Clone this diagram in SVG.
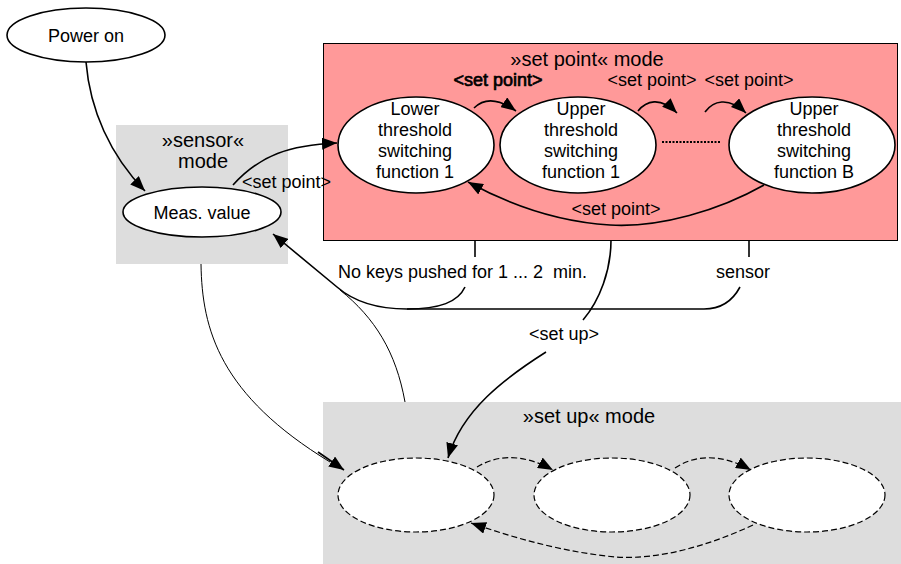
<svg xmlns="http://www.w3.org/2000/svg" width="901" height="564" viewBox="0 0 901 564">
<style>
text{font-family:"Liberation Sans",Arial,sans-serif;font-size:18px;fill:#000;text-anchor:middle}
.t{font-size:20px}
.b{stroke:#000;stroke-width:0.7}
.node{fill:#fff;stroke:#000;stroke-width:1.6}
.dn{fill:#fff;stroke:#000;stroke-width:1.2;stroke-dasharray:6,3}
.c{fill:none;stroke:#000;stroke-width:1.6}
.thin{fill:none;stroke:#000;stroke-width:1}
.d{fill:none;stroke:#000;stroke-width:1.2;stroke-dasharray:6,3}
</style>
<defs>
<marker id="a" markerUnits="userSpaceOnUse" markerWidth="16" markerHeight="12" refX="15" refY="6" orient="auto">
<path d="M0,0 L15,6 L0,12 z" fill="#000"/>
</marker>
</defs>
<rect width="901" height="564" fill="#fff"/>
<g id="sensor-mode">
<rect x="116" y="125" width="172" height="139" fill="#dddddd"/>
<text class="t" x="203" y="147">»sensor«</text>
<text class="t" x="203" y="168">mode</text>
</g>
<g id="setpoint-mode">
<rect x="323.5" y="43.5" width="574" height="197" fill="#ff9999" stroke="#000" stroke-width="1"/>
<text class="t" x="587" y="66">»set point« mode</text>
</g>
<g id="setup-mode">
<rect x="323" y="402" width="578" height="162" fill="#dddddd"/>
<text class="t" x="589" y="423">»set up« mode</text>
</g>
<g id="power-on">
<ellipse class="node" cx="86" cy="35" rx="79" ry="27"/>
<text x="86" y="42">Power on</text>
</g>
<g id="meas-value">
<ellipse class="node" cx="202" cy="212" rx="79" ry="25"/>
<text x="202" y="219">Meas. value</text>
</g>
<g id="lower-1">
<ellipse class="node" cx="416" cy="145" rx="78" ry="48"/>
<text x="415" y="115">Lower</text>
<text x="415" y="136">threshold</text>
<text x="415" y="157">switching</text>
<text x="415" y="178">function 1</text>
</g>
<g id="upper-1">
<ellipse class="node" cx="578" cy="145" rx="78" ry="48"/>
<text x="581" y="115">Upper</text>
<text x="581" y="136">threshold</text>
<text x="581" y="157">switching</text>
<text x="581" y="178">function 1</text>
</g>
<g id="upper-b">
<ellipse class="node" cx="812" cy="145" rx="83" ry="48"/>
<text x="814" y="115">Upper</text>
<text x="814" y="136">threshold</text>
<text x="814" y="157">switching</text>
<text x="814" y="178">function B</text>
</g>
<g id="setup-1"><ellipse class="dn" cx="416" cy="495" rx="78" ry="37"/></g>
<g id="setup-2"><ellipse class="dn" cx="612" cy="495" rx="78" ry="37"/></g>
<g id="setup-3"><ellipse class="dn" cx="807" cy="495" rx="78" ry="37"/></g>
<g id="connectors">
<path class="c" d="M86,62 C90,110 110,155 145,191" marker-end="url(#a)"/>
<path class="c" d="M233,185 C260,155 290,145 337,143" marker-end="url(#a)"/>
<path class="c" d="M474,108 C482,100 495,96 516,111" marker-end="url(#a)"/>
<path class="c" d="M638,111 C646,101 660,96 677,113" marker-end="url(#a)"/>
<path class="c" d="M705,112 C713,101 728,96 746,113" marker-end="url(#a)"/>
<path class="c" d="M764,185 C720,210 660,228 610,225 C560,222 510,205 468,182" marker-end="url(#a)"/>
<line x1="662" y1="142" x2="721" y2="142" stroke="#000" stroke-width="2" stroke-dasharray="2,1.5"/>
<path class="c" d="M475,240 L475,257"/>
<path class="c" d="M749,240 L749,257"/>
<path class="c" d="M465,287 C458,302 440,309 407,309"/>
<path class="c" d="M740,287 C732,302 720,309 704,309 L407,309 C375,309 352,300 337,287 L273,234" marker-end="url(#a)"/>
<path class="c" d="M611,240 C611,270 600,300 583,320"/>
<path class="c" d="M546,352 C505,378 462,410 448,458" marker-end="url(#a)"/>
<path class="thin" d="M405,402 C396,352 375,318 340,290"/>
<path class="thin" d="M201,264 C202,330 220,395 330,462"/>
<path class="c" d="M318,452 L344,470" marker-end="url(#a)"/>
<path class="d" d="M477,467 C495,456 520,452 553,470" marker-end="url(#a)"/>
<path class="d" d="M675,468 C693,456 718,452 751,470" marker-end="url(#a)"/>
<path class="d" d="M753,525 C710,545 660,560 616,557 C570,553 520,540 471,523" marker-end="url(#a)"/>
</g>
<g id="labels">
<text class="b" x="498" y="86">&lt;set point&gt;</text>
<text x="652" y="86">&lt;set point&gt;</text>
<text x="749" y="86">&lt;set point&gt;</text>
<text x="616" y="215">&lt;set point&gt;</text>
<text x="242" y="188" style="text-anchor:start">&lt;set point&gt;</text>
<text x="338" y="278" style="text-anchor:start;white-space:pre" xml:space="preserve">No keys pushed for 1 ... 2  min.</text>
<text x="743" y="278">sensor</text>
<text x="564" y="340">&lt;set up&gt;</text>
</g>
</svg>
